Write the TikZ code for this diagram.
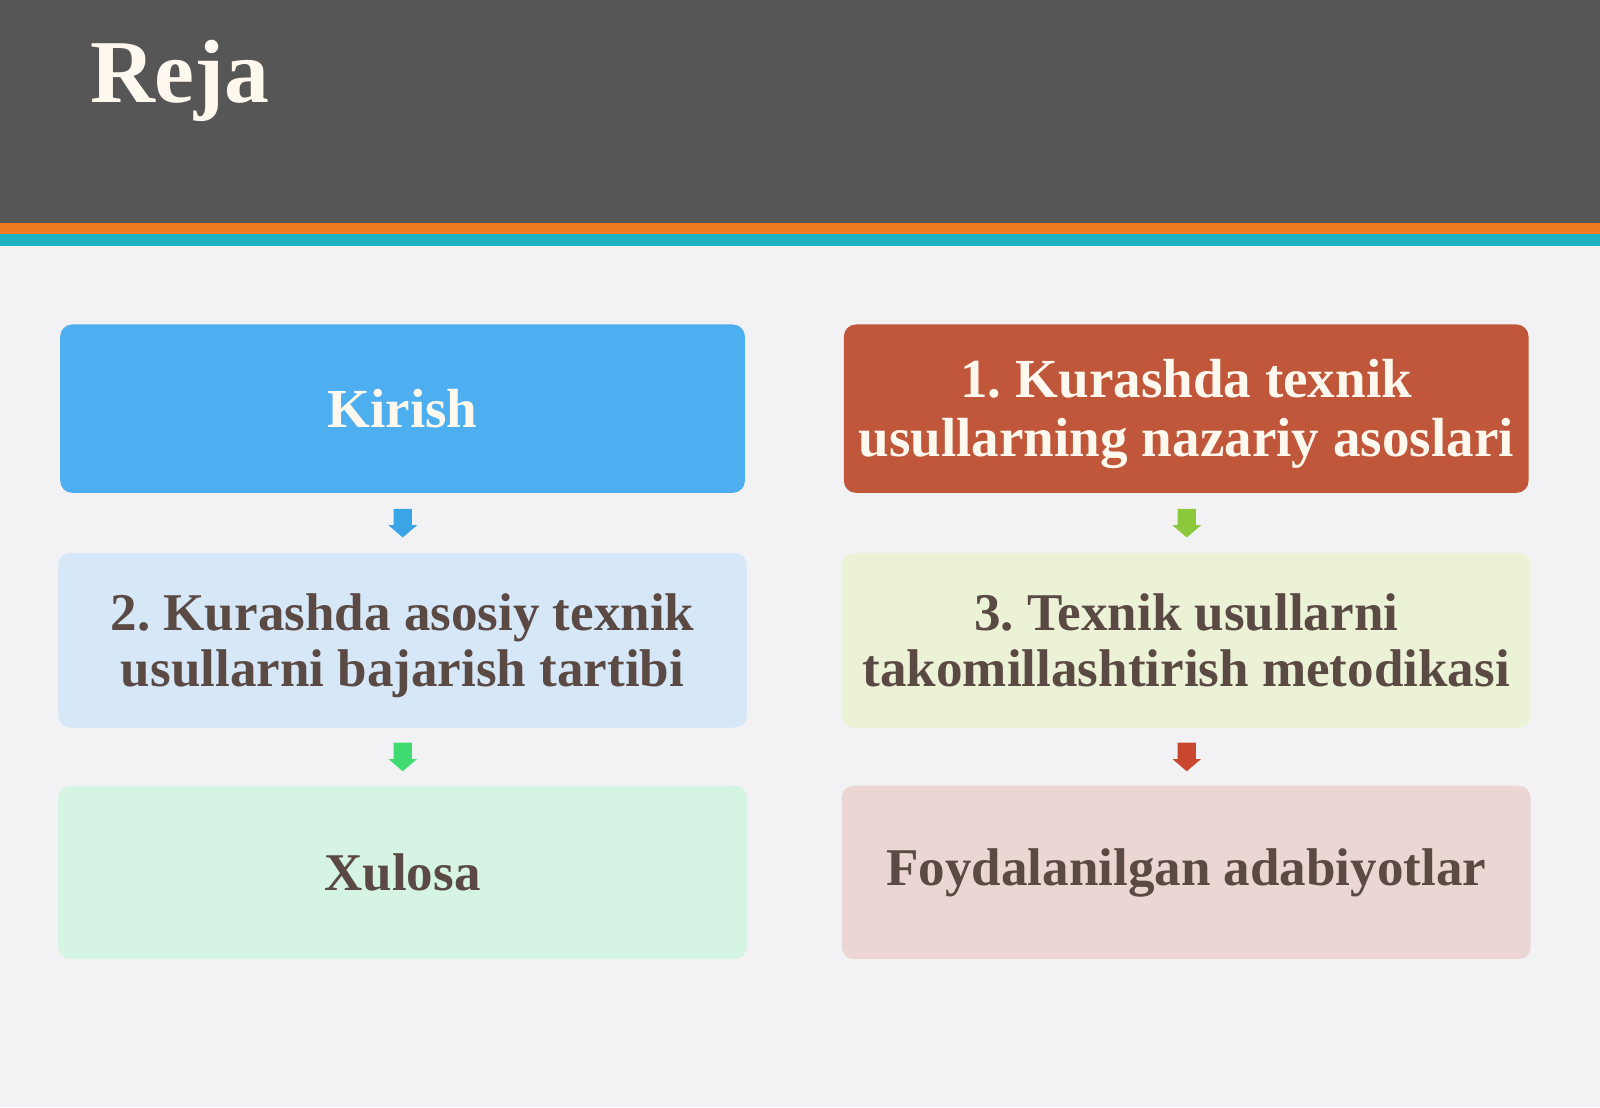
\documentclass[tikz,border=0pt]{standalone}
\usepackage{fontspec}
\setmainfont{Liberation Serif}
\usetikzlibrary{calc}
\frenchspacing
\definecolor{headgrey}{HTML}{565656}
\definecolor{stripeorange}{HTML}{F07A22}
\definecolor{stripeteal}{HTML}{1BB3C3}
\definecolor{pagebg}{HTML}{F2F2F4}
\definecolor{boxblue}{HTML}{4DAEF0}
\definecolor{boxrust}{HTML}{C1573A}
\definecolor{boxlblue}{HTML}{D6E7F8}
\definecolor{boxlyellow}{HTML}{EBF2D6}
\definecolor{boxlgreen}{HTML}{D6F4E3}
\definecolor{boxlpink}{HTML}{EBD6D3}
\definecolor{txtdark}{HTML}{5B4A44}
\definecolor{txtcream}{HTML}{FFF8EE}
\definecolor{arrblue}{HTML}{3AA5E6}
\definecolor{arrgreen}{HTML}{40DB70}
\definecolor{arrlime}{HTML}{8CC83C}
\definecolor{arrred}{HTML}{C9472F}
\tikzset{
  planbox/.style={rectangle, rounded corners=12pt, inner sep=0pt, align=center},
  darkbox/.style={planbox, text=txtdark, font=\fontsize{52}{55}\selectfont\bfseries},
  lightbox/.style={planbox, text=txtcream, font=\fontsize{54}{57}\selectfont\bfseries},
}
\newcommand{\blockarrow}[2]{%
  \fill[#2] (#1) ++(-9,-14) -- ++(18,0) -- ++(0,16) -- ++(5,0) -- ++(-14,12)
    -- ++(-14,-12) -- ++(5,0) -- cycle;}
\begin{document}
\begin{tikzpicture}[x=1pt,y=-1pt,scale=1.0204,transform shape]
  \fill[pagebg] (0,0) rectangle (1568,1085);
  \useasboundingbox (0,0) rectangle (1568,1085);
  \fill[headgrey] (0,0) rectangle (1568,219);
  \fill[stripeorange] (0,219) rectangle (1568,229);
  \fill[stripeteal] (0,229) rectangle (1568,241);
  \node[anchor=base west, inner sep=0pt, text=txtcream,
    font=\fontsize{88}{90}\selectfont\bfseries] (title) at (88,100) {Reja};

  \node[lightbox, fill=boxblue, minimum width=671pt, minimum height=165pt]
    (kirish) at (394.5,400.5) {Kirish};
  \node[lightbox, fill=boxrust, minimum width=671pt, minimum height=165pt,
    text height=97pt, text depth=4pt]
    (nazariy) at (1162.5,400.5) {1. Kurashda texnik\\usullarning nazariy asoslari};
  \node[darkbox, fill=boxlblue, minimum width=675pt, minimum height=171pt,
    text height=95pt, text depth=4pt]
    (tartib) at (394.5,627.5) {2. Kurashda asosiy texnik\\usullarni bajarish tartibi};
  \node[darkbox, fill=boxlyellow, minimum width=675pt, minimum height=171pt,
    text height=95pt, text depth=4pt]
    (metod) at (1162.5,627.5) {3. Texnik usullarni\\takomillashtirish metodikasi};
  \node[darkbox, fill=boxlgreen, minimum width=675pt, minimum height=170pt]
    (xulosa) at (394.5,855) {Xulosa};
  \node[darkbox, fill=boxlpink, minimum width=675pt, minimum height=170pt]
    (adab) at (1162.5,855) {Foydalanilgan adabiyotlar};

  \coordinate (a1) at ($(kirish.south)!0.5!(tartib.north)$);
  \coordinate (a2) at ($(tartib.south)!0.5!(xulosa.north)$);
  \coordinate (a3) at ($(nazariy.south)!0.5!(metod.north)$);
  \coordinate (a4) at ($(metod.south)!0.5!(adab.north)$);
  \blockarrow{a1}{arrblue}
  \blockarrow{a2}{arrgreen}
  \blockarrow{a3}{arrlime}
  \blockarrow{a4}{arrred}
\end{tikzpicture}
\end{document}
